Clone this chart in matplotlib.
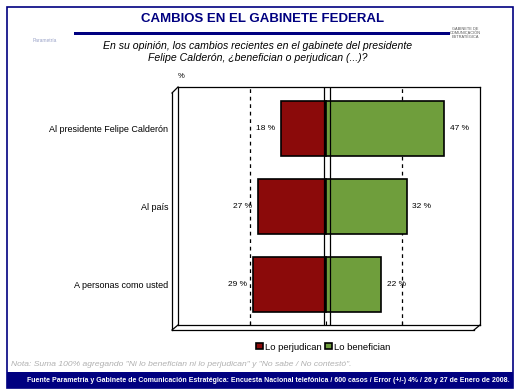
import matplotlib.pyplot as plt
from matplotlib.patches import Rectangle

# Data
categories = ["Al presidente Felipe Calderón", "Al país", "A personas como usted"]
perjudican = [18, 27, 29]
benefician = [47, 32, 22]
series_names = ["Lo perjudican", "Lo benefician"]

title = "CAMBIOS EN EL GABINETE FEDERAL"
question = ("En su opinión, los cambios recientes en el gabinete del presidente\n"
            "Felipe Calderón, ¿benefician o perjudican (...)?")
note = 'Nota: Suma 100% agregando "Ni lo benefician ni lo perjudican" y "No sabe / No contestó".'
source = ("Fuente Parametría y Gabinete de Comunicación Estratégica: Encuesta Nacional telefónica "
          "/ 600 casos / Error (+/-) 4% / 26 y 27 de Enero de 2008.")

red = "#8b0a0a"
green = "#6f9e3c"
navy = "#000080"

plt.rcParams['font.family'] = ['Liberation Sans', 'DejaVu Sans']

W, H = 520, 391
fig = plt.figure(figsize=(W / 100, H / 100), dpi=100)
fig.patch.set_facecolor("white")

def px(x, y):
    return x / W, 1 - y / H

# outer border
fig.add_artist(Rectangle(px(7, 388), 506 / W, 381 / H, transform=fig.transFigure,
                         fill=False, ec=navy, lw=1.2))
# title and rule
fig.text(*px(263, 19), title, ha="center", va="center", fontsize=9.5,
         fontweight="bold", color=navy)
fig.add_artist(Rectangle(px(74, 35), 376 / W, 3 / H, transform=fig.transFigure,
                         fc=navy, ec="none"))
fig.text(*px(258, 52), question, ha="center", va="center", fontsize=7.6,
         style="italic", linespacing=1.25)
fig.text(*px(181, 77), "%", ha="center", va="center", fontsize=5.5)

# logos (simple stand-ins)
fig.text(*px(45, 40), "Parametría", ha="center", va="center", fontsize=3.5, color="#9aa3c8")
fig.text(*px(465, 33), "GABINETE DE\nCOMUNICACIÓN\nESTRATÉGICA", ha="center", va="center",
         fontsize=2.8, color="#555555", linespacing=1.0)

# main axes
ax = fig.add_axes([178 / W, 1 - 325 / H, 302 / W, 238 / H])
y = list(range(len(categories)))
ax.barh(y, [-v for v in perjudican], height=0.705, color=red, ec="black", lw=1.2,
        label=series_names[0])
ax.barh(y, benefician, height=0.705, color=green, ec="black", lw=1.2,
        label=series_names[1])
ax.set_xlim(-58.7, 61.1)
ax.set_ylim(2.52, -0.53)

for g in (-30, 30):
    ax.axvline(g, color="black", lw=0.9, ls=(0, (3, 3)), zorder=0)
ax.axvline(-0.6, color="black", lw=0.9, zorder=3)
ax.axvline(1.4, color="black", lw=0.9, zorder=3)

for i in y:
    ax.text(-perjudican[i] - 2.2, i, f"{perjudican[i]} %", ha="right", va="center", fontsize=6)
    ax.text(benefician[i] + 2.2, i, f"{benefician[i]} %", ha="left", va="center", fontsize=6)

ax.set_yticks(y)
ax.set_yticklabels(categories, fontsize=6.5)
ax.tick_params(axis="y", length=0, pad=7)
ax.set_xticks([-30, 0, 30])
ax.set_xticklabels([])
ax.tick_params(axis="x", length=3, direction="in")
for s in ax.spines.values():
    s.set_linewidth(0.9)

# 3D side wall and floor
fig.add_artist(plt.Line2D([172 / W, 172 / W], [1 - 93 / H, 1 - 330 / H],
                          transform=fig.transFigure, color="black", lw=0.9))
fig.add_artist(plt.Line2D([172 / W, 178 / W], [1 - 93 / H, 1 - 87 / H],
                          transform=fig.transFigure, color="black", lw=0.9))
fig.add_artist(plt.Line2D([172 / W, 474 / W], [1 - 330 / H, 1 - 330 / H],
                          transform=fig.transFigure, color="black", lw=0.9))
fig.add_artist(plt.Line2D([474 / W, 480 / W], [1 - 330 / H, 1 - 325 / H],
                          transform=fig.transFigure, color="black", lw=0.9))
fig.add_artist(plt.Line2D([172 / W, 178 / W], [1 - 330 / H, 1 - 325 / H],
                          transform=fig.transFigure, color="black", lw=0.9))

# legend
fig.legend(loc="center", bbox_to_anchor=px(323, 347), ncol=2, frameon=False,
           fontsize=6.8, handlelength=0.8, handleheight=0.6, handletextpad=0.2,
           columnspacing=0.3)

# note and footer
fig.text(*px(11, 364), note, ha="left", va="center", fontsize=6.1,
         style="italic", color="#b0b0b0")
fig.add_artist(Rectangle(px(7, 388), 506 / W, 16 / H, transform=fig.transFigure,
                         fc=navy, ec="none"))
fig.text(*px(268, 380), source, ha="center", va="center", fontsize=5.0,
         fontweight="bold", color="white",
         family=['Liberation Sans Narrow', 'Liberation Sans'])

fig.savefig("out.png", dpi=100)
